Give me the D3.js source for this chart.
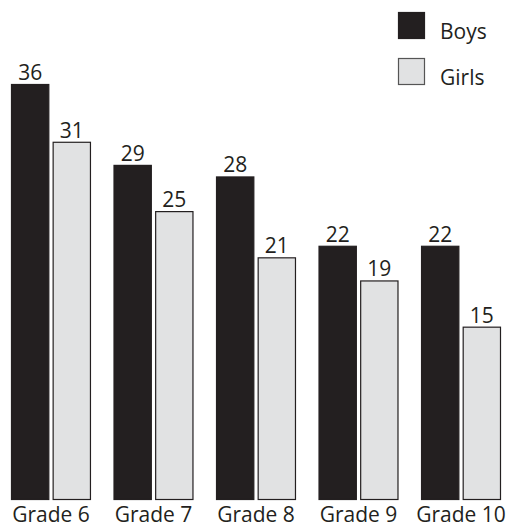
<!DOCTYPE html>
<html>
<head>
<meta charset="utf-8">
<script src="https://cdn.jsdelivr.net/npm/d3@7"></script>
<style>
  html, body { margin: 0; padding: 0; background: #fff; }
  text { font-family: "Open Sans", sans-serif; fill: #231f20; }
</style>
</head>
<body>
<div id="chart"></div>
<script>
const grades = ['Grade 6', 'Grade 7', 'Grade 8', 'Grade 9', 'Grade 10'];
const series = ['Boys', 'Girls'];
const boys = [36, 29, 28, 22, 22];
const girls = [31, 25, 21, 19, 15];

const width = 514;
const height = 529;
const baseY = 500;
const colors = { Boys: '#231f20', Girls: '#e1e2e3' };

const svg = d3.select('#chart')
  .append('svg')
  .attr('width', width)
  .attr('height', height);

// group and bar scales
const x0 = d3.scaleBand()
  .domain(grades)
  .range([11, 501])
  .paddingInner(0.22)
  .paddingOuter(0);

const x1 = d3.scaleBand()
  .domain(series)
  .range([0, x0.bandwidth()])
  .paddingInner(0.08);

const y = d3.scaleLinear()
  .domain([0, 36])
  .range([baseY, 84]);

const rows = grades.map((g, i) => ({ grade: g, Boys: boys[i], Girls: girls[i] }));

const groups = svg.selectAll('g.grade')
  .data(rows)
  .enter()
  .append('g')
  .attr('class', 'grade')
  .attr('transform', d => 'translate(' + x0(d.grade) + ',0)');

groups.selectAll('rect')
  .data(d => series.map(s => ({ key: s, value: d[s] })))
  .enter()
  .append('rect')
  .attr('x', d => x1(d.key) + 0.5)
  .attr('y', d => y(d.value) + 0.5)
  .attr('width', x1.bandwidth() - 1)
  .attr('height', d => baseY - y(d.value) - 1)
  .attr('fill', d => colors[d.key])
  .attr('stroke', '#231f20')
  .attr('stroke-width', 1.2);

// value labels
groups.selectAll('text.val')
  .data(d => series.map(s => ({ key: s, value: d[s] })))
  .enter()
  .append('text')
  .attr('class', 'val')
  .attr('x', d => x1(d.key) + x1.bandwidth() / 2)
  .attr('y', d => y(d.value) - 4)
  .attr('text-anchor', 'middle')
  .style('font-size', '21px')
  .text(d => d.value);

// category axis labels
const xAxis = d3.axisBottom(x0).tickSize(0).tickPadding(0);
const axisG = svg.append('g')
  .attr('transform', 'translate(0,' + baseY + ')')
  .call(xAxis);
axisG.select('.domain').remove();
axisG.selectAll('text')
  .attr('dy', null)
  .attr('y', 22)
  .style('font-size', '21px')
  .style('font-family', '"Open Sans", sans-serif')
  .attr('fill', '#231f20');

// legend
const legend = svg.selectAll('g.legend')
  .data(series)
  .enter()
  .append('g')
  .attr('class', 'legend')
  .attr('transform', (d, i) => 'translate(398,' + (12 + i * 46) + ')');

legend.append('rect')
  .attr('x', 0.5)
  .attr('y', 0.5)
  .attr('width', 26)
  .attr('height', 26)
  .attr('fill', d => colors[d])
  .attr('stroke', d => d === 'Girls' ? '#555' : '#231f20')
  .attr('stroke-width', 1.2);

legend.append('text')
  .attr('x', 42)
  .attr('y', 27)
  .style('font-size', '21px')
  .text(d => d);
</script>
</body>
</html>
